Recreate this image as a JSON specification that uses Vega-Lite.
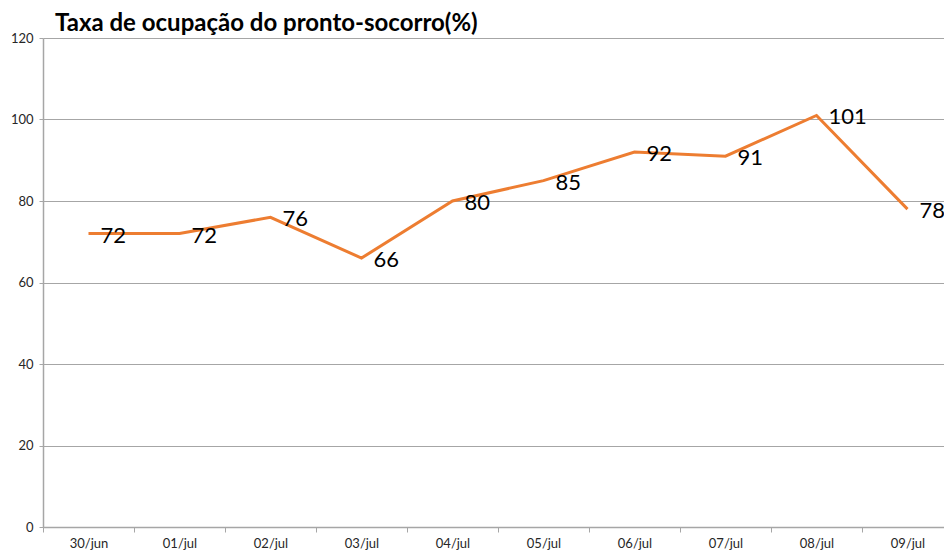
{
  "$schema": "https://vega.github.io/schema/vega-lite/v6.json",
  "autosize": "none",
  "width": 910,
  "height": 489,
  "padding": {"left": 43, "top": 38, "right": 0, "bottom": 26},
  "background": "white",
  "config": {
    "view": {"stroke": null},
    "font": "Lato",
    "axis": {"labelFont": "Lato", "labelFontSize": 13, "labelColor": "#262626", "domainColor": "#a6a6a6", "tickColor": "#a6a6a6", "gridColor": "#a6a6a6", "title": null}
  },
  "title": {
    "text": "Taxa de ocupação do pronto-socorro(%)",
    "anchor": "start",
    "frame": "group",
    "dx": 12,
    "offset": -28,
    "baseline": "bottom",
    "fontSize": 24,
    "fontWeight": "bold",
    "font": "Lato",
    "color": "#000000"
  },
  "data": {
    "values": [
      {"dia": "30/jun", "taxa": 72},
      {"dia": "01/jul", "taxa": 72},
      {"dia": "02/jul", "taxa": 76},
      {"dia": "03/jul", "taxa": 66},
      {"dia": "04/jul", "taxa": 80},
      {"dia": "05/jul", "taxa": 85},
      {"dia": "06/jul", "taxa": 92},
      {"dia": "07/jul", "taxa": 91},
      {"dia": "08/jul", "taxa": 101},
      {"dia": "09/jul", "taxa": 78}
    ]
  },
  "encoding": {
    "x": {
      "field": "dia", "type": "ordinal", "sort": null,
      "scale": {"type": "point", "padding": 0.5},
      "axis": {"grid": false, "labelAngle": 0, "tickSize": 5, "tickOffset": -45.5, "labelOffset": 45.5, "labelPadding": 5, "domainWidth": 1.5}
    },
    "y": {
      "field": "taxa", "type": "quantitative",
      "scale": {"domain": [0, 120], "nice": false},
      "axis": {"values": [0, 20, 40, 60, 80, 100, 120], "tickSize": 4, "labelPadding": 6, "grid": true, "gridWidth": 1, "domainWidth": 1.5}
    }
  },
  "layer": [
    {"mark": {"type": "line", "color": "#ED7D31", "strokeWidth": 3}},
    {"mark": {"type": "text", "align": "left", "baseline": "middle", "dx": 12, "dy": 2, "fontSize": 22, "font": "Lato", "color": "#000000"},
     "encoding": {"text": {"field": "taxa", "type": "quantitative"}}}
  ]
}
